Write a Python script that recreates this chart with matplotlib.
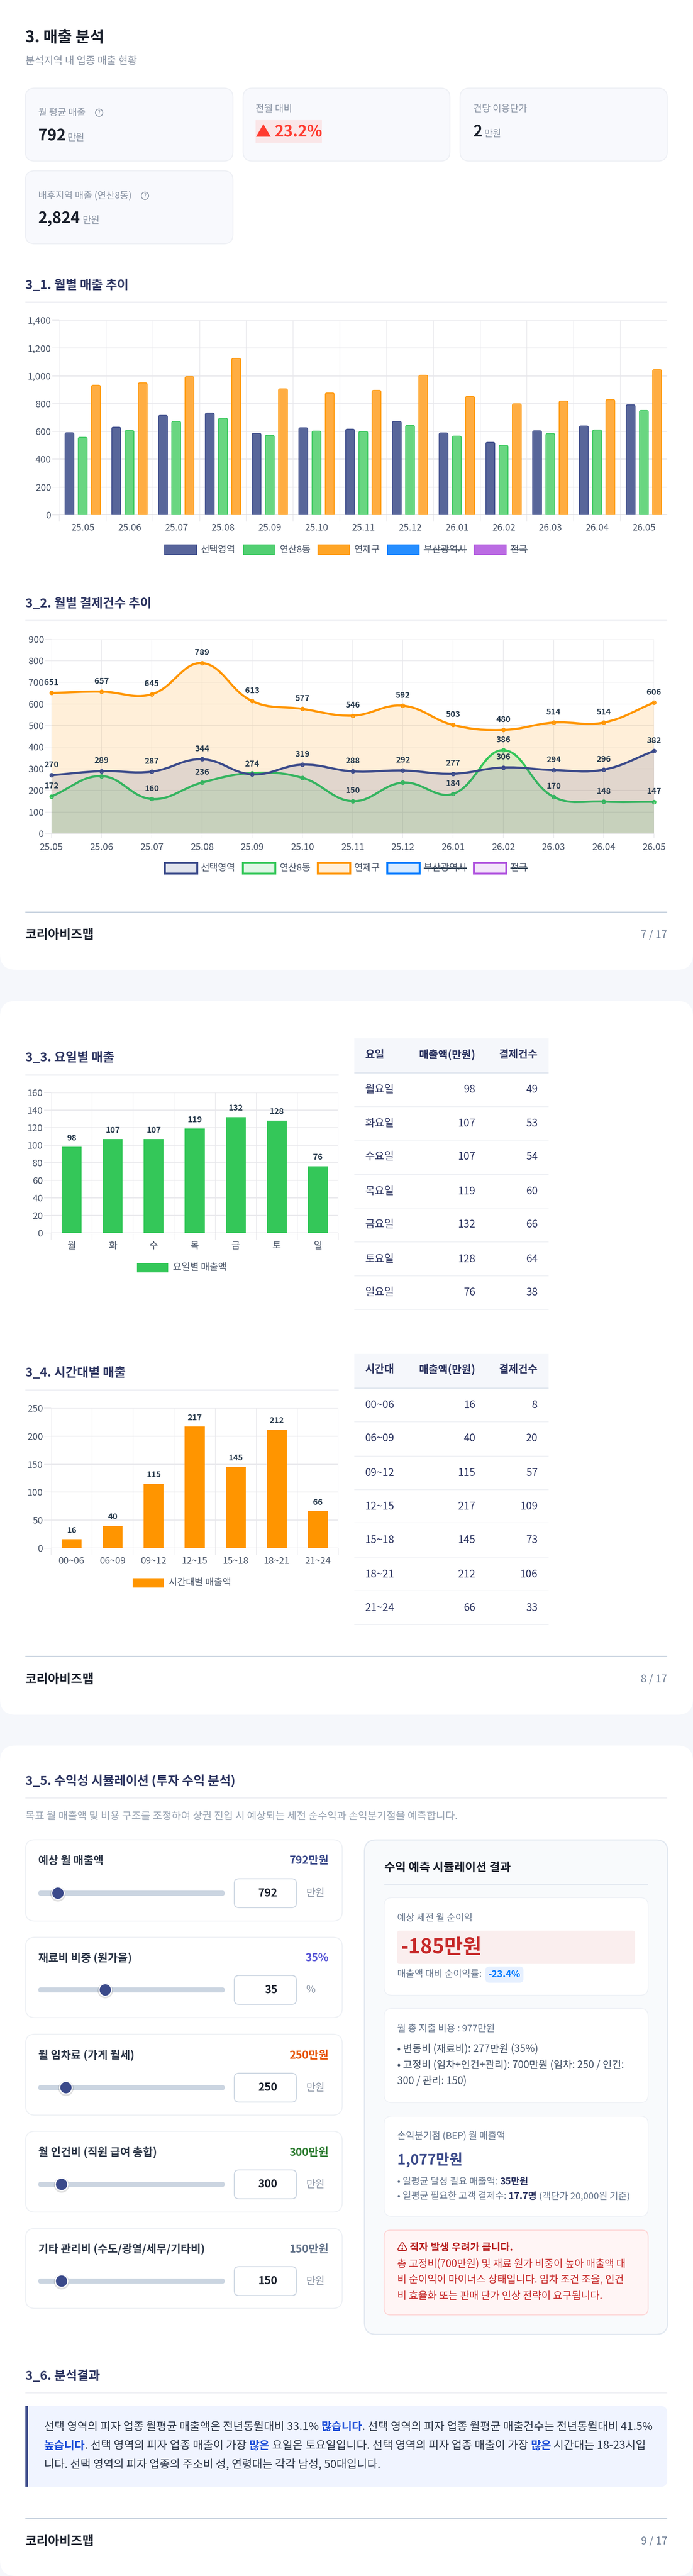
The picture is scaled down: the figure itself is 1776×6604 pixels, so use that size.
import matplotlib
matplotlib.use("Agg")
import matplotlib.pyplot as plt
import numpy as np
from matplotlib.patches import FancyBboxPatch, Rectangle, Circle, PathPatch
from matplotlib.path import Path
from matplotlib.colors import to_rgba

plt.rcParams['font.family'] = ['Noto Sans CJK KR', 'DejaVu Sans']

W, H = 1776, 6604

# ================== DATA ==================
months = ["25.05", "25.06", "25.07", "25.08", "25.09", "25.10", "25.11",
          "25.12", "26.01", "26.02", "26.03", "26.04", "26.05"]
series_names = ["선택영역", "연산8동", "연제구", "부산광역시", "전국"]

sales_selected = [591, 631, 716, 733, 587, 627, 617, 673, 590, 522, 605, 640, 792]
sales_dong = [558, 607, 673, 696, 573, 603, 600, 644, 567, 501, 585, 611, 751]
sales_gu = [933, 950, 995, 1126, 907, 877, 896, 1005, 852, 799, 819, 829, 1045]

count_selected = [270, 289, 287, 344, 274, 319, 288, 292, 277, 306, 294, 296, 382]
count_dong = [172, 266, 160, 236, 280, 258, 150, 236, 184, 386, 170, 148, 147]
count_gu = [651, 657, 645, 789, 613, 577, 546, 592, 503, 480, 514, 514, 606]
dong_hidden_labels = [1, 4, 5, 7]

days_short = ["월", "화", "수", "목", "금", "토", "일"]
days_long = ["월요일", "화요일", "수요일", "목요일", "금요일", "토요일", "일요일"]
day_sales = [98, 107, 107, 119, 132, 128, 76]
day_counts = [49, 53, 54, 60, 66, 64, 38]

time_slots = ["00~06", "06~09", "09~12", "12~15", "15~18", "18~21", "21~24"]
time_sales = [16, 40, 115, 217, 145, 212, 66]
time_counts = [8, 20, 57, 109, 73, 106, 33]

slider_labels = ["예상 월 매출액", "재료비 비중 (원가율)", "월 임차료 (가게 월세)",
                 "월 인건비 (직원 급여 총합)", "기타 관리비 (수도/광열/세무/기타비)"]
slider_values = [792, 35, 250, 300, 150]
slider_max = [10000, 100, 2000, 3000, 1500]
slider_units = ["만원", "%", "만원", "만원", "만원"]
slider_colors = ["#3b4a8a", "#5856d6", "#e65100", "#2e7d32", "#64748b"]

# ================== COLORS ==================
NAVY, GREEN, ORANGE, BLUE, PURPLE = "#3b4a8a", "#34c759", "#ff9500", "#007aff", "#af52de"
series_colors = [NAVY, GREEN, ORANGE, BLUE, PURPLE]
PAGE = "#f5f7fb"
TITLE = "#2d3561"
GRAY = "#8b95a5"
TICK = "#4a5568"
GRID = "#e8e8ec"


def px(v):
    # 1 px of the picture in points
    return v * 0.72


fig = plt.figure(figsize=(W / 100, H / 100), dpi=100, facecolor=PAGE)
bg = fig.add_axes([0, 0, 1, 1])
bg.set_xlim(0, W)
bg.set_ylim(H, 0)
bg.axis("off")
renderer = fig.canvas.get_renderer()


def T(x, y, s, size, color="#2d3748", weight="normal", ha="left", **kw):
    return bg.text(x, y, s, fontsize=px(size), color=color, fontweight=weight,
                   ha=ha, va="center", **kw)


def text_w(s, size, weight="normal"):
    a = bg.text(0, 0, "|" + s + "|", fontsize=px(size), fontweight=weight)
    b = bg.text(0, 0, "||", fontsize=px(size), fontweight=weight)
    w = a.get_window_extent(renderer).width - b.get_window_extent(renderer).width
    a.remove()
    b.remove()
    return w


def runs(x, y, parts, size):
    # several colors on one line
    for s, color, weight in parts:
        T(x, y, s, size, color, weight)
        x += text_w(s, size, weight)


def box(x0, y0, x1, y1, r, fc, ec="none", lw=0):
    p = FancyBboxPatch((x0 + r, y0 + r), x1 - x0 - 2 * r, y1 - y0 - 2 * r,
                       boxstyle=f"round,pad={r},rounding_size={r}",
                       fc=fc, ec=ec, lw=px(lw))
    bg.add_patch(p)
    return p


def rect(x0, y0, x1, y1, fc):
    bg.add_patch(Rectangle((x0, y0), x1 - x0, y1 - y0, fc=fc, ec="none"))


def section(y_title, y_line, text, x1=1710):
    T(65, y_title, text, 32, TITLE, "bold")
    rect(65, y_line - 2, x1, y_line + 2, "#f0f1f5")


def footer(y_line, y_text, page):
    rect(65, y_line - 1.5, 1710, y_line + 1.5, "#cbd5e1")
    T(65, y_text, "코리아비즈맵", 32, "#1a202c", "bold")
    T(1710, y_text, page, 27, "#718096", ha="right")


def make_axes(left, top, right, bottom):
    ax = fig.add_axes([left / W, 1 - bottom / H, (right - left) / W, (bottom - top) / H])
    ax.patch.set_alpha(0)
    for s in ax.spines.values():
        s.set_visible(False)
    return ax


def style_bar_axes(ax, n, labels, last_line=True, ytick_len=18, xtick_len=17, pad=22):
    ax.set_xlim(-0.5, n - 0.5)
    ax.set_xticks(range(n))
    ax.set_xticklabels(labels)
    edges = np.arange(n + 1 if last_line else n) - 0.5
    ax.set_xticks(edges, minor=True)
    ax.tick_params(axis="x", which="major", length=0, pad=px(pad), labelsize=px(24), labelcolor=TICK)
    ax.tick_params(axis="x", which="minor", length=px(xtick_len), width=px(1.5), color=GRID)
    ax.tick_params(axis="y", length=px(ytick_len), width=px(2), color=GRID, pad=px(3),
                   labelsize=px(24), labelcolor=TICK)
    ax.grid(axis="x", which="minor", color=GRID, lw=px(1.5))
    ax.grid(axis="y", which="major", color=GRID, lw=px(2.5))
    ax.set_axisbelow(True)
    ax.axhline(0, color="#d8d8dc", lw=px(3), zorder=1.5)


def rounded_bar(ax, x, width, height, fc, ec, rx, ry):
    # bar with slightly rounded top, in data units
    l, r = x - width / 2, x + width / 2
    verts = [(l, 0), (l, height - ry), (l, height), (l + rx, height),
             (r - rx, height), (r, height), (r, height - ry), (r, 0), (l, 0)]
    codes = [Path.MOVETO, Path.LINETO, Path.CURVE3, Path.CURVE3,
             Path.LINETO, Path.CURVE3, Path.CURVE3, Path.LINETO, Path.LINETO]
    ax.add_patch(PathPatch(Path(verts, codes), fc=fc, ec=ec, lw=px(2), zorder=3))


def bezier_path(xs, ys, sx, sy, tension=0.4):
    # same spline as the chart library, worked out in pixels
    p = np.column_stack([np.array(xs) * sx, np.array(ys) * sy])
    n = len(p)
    prev_c, next_c = np.zeros_like(p), np.zeros_like(p)
    for i in range(n):
        a, b, c = p[max(i - 1, 0)], p[i], p[min(i + 1, n - 1)]
        d01, d12 = np.hypot(*(b - a)), np.hypot(*(c - b))
        s = d01 + d12
        prev_c[i] = b - tension * d01 / s * (c - a)
        next_c[i] = b + tension * d12 / s * (c - a)
    verts, codes = [p[0]], [Path.MOVETO]
    for i in range(n - 1):
        verts += [next_c[i], prev_c[i + 1], p[i + 1]]
        codes += [Path.CURVE4] * 3
    return np.array(verts) / [sx, sy], codes


def legend(y0, y1, boxes, text_x, names, alpha, border, size=24, struck=(3, 4)):
    y = (y0 + y1) / 2
    for i, name in enumerate(names):
        c = series_colors[i]
        x0, x1 = boxes[i]
        rect(x0, y0, x1, y1, "white")
        bg.add_patch(Rectangle((x0, y0), x1 - x0, y1 - y0, fc=to_rgba(c, alpha),
                               ec=c, lw=px(border)))
        T(text_x[i], y, name, size, TICK)
        if i in struck:
            w = text_w(name, size)
            rect(text_x[i], y - 1.5, text_x[i] + w, y + 1.5, "#2c3e50")


def table(x0, x1, head_top, head_bot, head_y, headers, col1, col2, col3, ys, lines):
    rect(x0, head_top, x1, head_bot, "#f5f7fb")
    rect(x0, head_bot, x1, head_bot + 4, "#e2e8f0")
    T(935.5, head_y, headers[0], 27, TITLE, "bold")
    T(1218.5, head_y, headers[1], 27, TITLE, "bold", ha="right")
    T(1378, head_y, headers[2], 27, TITLE, "bold", ha="right")
    for i, y in enumerate(ys):
        T(935.5, y, col1[i], 27, TITLE)
        T(1218.5, y, str(col2[i]), 27, TITLE, ha="right")
        T(1378, y, str(col3[i]), 27, TITLE, ha="right")
        rect(x0, lines[i] - 1, x1, lines[i] + 1, "#eef0f4")


# ================== CARDS ==================
box(0, -60, W, 2486, 40, "white")
box(0, 2566, W, 4396, 40, "white")
box(0, 4475, W, 6604, 40, "white")

# ================== 3. KPI ==================
T(65, 97, "3. 매출 분석", 40, "#1a202c", "bold")
T(65, 156, "분석지역 내 업종 매출 현황", 26, GRAY)

for (x0, y0, x1, y1) in [(65, 226, 597, 413), (623, 226, 1153, 413),
                         (1179, 226, 1710, 413), (65, 438, 597, 625)]:
    box(x0, y0, x1, y1, 24, "#f8f9fd", "#eef0f5", 2.5)


def help_icon(x, y):
    bg.add_patch(Circle((x, y), 9.5, fc="none", ec=GRAY, lw=px(2)))
    T(x, y, "?", 14, GRAY, ha="center")


T(98, 289, "월 평균 매출", 24, GRAY)
help_icon(254, 289)
T(98, 349, "792", 40, "#1a202c", "bold")
T(173, 354, "만원", 24, GRAY)

T(655, 279, "전월 대비", 24, GRAY)
rect(655, 308, 825, 366, "#fae6e8")
T(655, 339, "▲", 40, "#ff3b30", "bold")
T(704, 339, "23.2%", 40, "#ff3b30", "bold")

T(1213, 279, "건당 이용단가", 24, GRAY)
T(1213, 339, "2", 40, "#1a202c", "bold")
T(1241, 344, "만원", 24, GRAY)

T(98, 501, "배후지역 매출 (연산8동)", 24, GRAY)
help_icon(371.5, 502)
T(98, 561, "2,824", 40, "#1a202c", "bold")
T(212, 566, "만원", 24, GRAY)

# ================== 3_1 ==================
section(732, 775, "3_1. 월별 매출 추이")
ax1 = make_axes(152, 821, 1710, 1320)
style_bar_axes(ax1, 13, months, last_line=False)
ax1.set_ylim(0, 1400)
ax1.set_yticks(range(0, 1401, 200))
ax1.set_yticklabels([f"{v:,}" for v in range(0, 1401, 200)])
bar_fill = ["#58669a", "#69d681", "#ffad42"]
for k, vals in enumerate([sales_selected, sales_dong, sales_gu]):
    for i, v in enumerate(vals):
        rounded_bar(ax1, i + (k - 1) * 0.283, 0.19, v, bar_fill[k], series_colors[k], 0.035, 11)
legend(1397, 1422, [(422, 504), (624, 703), (815, 896), (993, 1074), (1215, 1297)],
       [515, 716, 907, 1086, 1308], series_names, 0.85, 2.5)

# ================== 3_2 ==================
section(1548, 1591.5, "3_2. 월별 결제건수 추이")
ax2 = make_axes(131.5, 1638.5, 1676, 2137)
ax2.set_xlim(0, 12)
ax2.set_ylim(0, 900)
ax2.set_xticks(range(13))
ax2.set_xticklabels(months)
ax2.set_yticks(range(0, 901, 100))
ax2.tick_params(axis="x", length=px(12), width=px(1.5), color=GRID, pad=px(12),
                labelsize=px(24), labelcolor=TICK)
ax2.tick_params(axis="y", length=px(16), width=px(1.5), color=GRID, pad=px(3),
                labelsize=px(24), labelcolor=TICK)
ax2.grid(True, color=GRID, lw=px(1.6))
ax2.set_axisbelow(True)
sx = (1676 - 131.5) / 12
sy = (2137 - 1638.5) / 900
xs = list(range(13))
line_series = [(count_gu, ORANGE, []), (count_dong, GREEN, dong_hidden_labels), (count_selected, NAVY, [])]
for z, (vals, c, hidden) in enumerate(line_series):
    verts, codes = bezier_path(xs, vals, sx, sy)
    fill_v = np.vstack([verts, [12, 0], [0, 0], verts[0]])
    fill_c = codes + [Path.LINETO, Path.LINETO, Path.CLOSEPOLY]
    ax2.add_patch(PathPatch(Path(fill_v, fill_c), fc=to_rgba(c, 0.15), ec="none", zorder=2 + z))
    ax2.add_patch(PathPatch(Path(verts, codes), fc="none", ec=c, lw=px(5.5), zorder=2 + z,
                            clip_on=False, capstyle="round"))
    ax2.plot(xs, vals, "o", ms=px(9), mfc=to_rgba(c, 0.35), mec=c, mew=px(2.5), zorder=2.5 + z,
             clip_on=False)
for vals, c, hidden in line_series:
    for i, v in enumerate(vals):
        if i in hidden:
            continue
        ax2.annotate(str(v), (i, v), xytext=(0, px(27)), textcoords="offset points", ha="center",
                     va="center", fontsize=px(21), color="#2c3e50", fontweight="bold", zorder=8,
                     annotation_clip=False)
ax2.axhline(0, color="#c4c6c4", lw=px(2), zorder=6)
legend(2212, 2239.5, [(422, 505), (622, 705), (814, 897), (992, 1075), (1214, 1297)],
       [515, 716, 907, 1086, 1308], series_names, 0.15, 5)
footer(2338.5, 2397, "7 / 17")

# ================== 3_3 ==================
section(2712, 2756, "3_3. 요일별 매출", 868)
ax3 = make_axes(131, 2801, 867, 3160.5)
style_bar_axes(ax3, 7, days_short)
ax3.set_ylim(0, 160)
ax3.set_yticks(range(0, 161, 20))
ax3.bar(range(7), day_sales, width=0.486, color=GREEN, zorder=3)
for i, v in enumerate(day_sales):
    ax3.annotate(str(v), (i, v), xytext=(0, px(23)), textcoords="offset points", ha="center",
                 va="center", fontsize=px(21), color="#2c3e50", fontweight="bold")
rect(351, 3238.5, 431, 3262, GREEN)
T(443, 3250, "요일별 매출액", 24, TICK)
table(908, 1405.5, 2662, 2748, 2704, ["요일", "매출액(만원)", "결제건수"],
      days_long, day_sales, day_counts,
      [2793.7, 2880, 2965.6, 3054, 3139.6, 3228, 3313.6],
      [2837, 2923, 3011, 3097, 3184.5, 3271, 3357])

# ================== 3_4 ==================
section(3520, 3564, "3_4. 시간대별 매출", 868)
ax4 = make_axes(131, 3610, 867, 3969)
style_bar_axes(ax4, 7, time_slots)
ax4.set_ylim(0, 250)
ax4.set_yticks(range(0, 251, 50))
ax4.bar(range(7), time_sales, width=0.486, color=ORANGE, zorder=3)
for i, v in enumerate(time_sales):
    ax4.annotate(str(v), (i, v), xytext=(0, px(23)), textcoords="offset points", ha="center",
                 va="center", fontsize=px(21), color="#2c3e50", fontweight="bold")
rect(340, 4046, 420, 4070, ORANGE)
T(431.5, 4058, "시간대별 매출액", 24, TICK)
table(908, 1405.5, 3471, 3557, 3511, ["시간대", "매출액(만원)", "결제건수"],
      time_slots, time_sales, time_counts,
      [3602, 3687.6, 3776, 3862, 3948, 4036, 4122],
      [3645, 3733, 3819, 3904.5, 3992, 4078.5, 4164.6])
footer(4247, 4305.5, "8 / 17")

# ================== 3_5 ==================
section(4566, 4609, "3_5. 수익성 시뮬레이션 (투자 수익 분석)")
T(65, 4656, "목표 월 매출액 및 비용 구조를 조정하여 상권 진입 시 예상되는 세전 순수익과 손익분기점을 예측합니다.", 26.4, "#9aa5b4")

card_tops = [4716.5, 4966.5, 5215, 5464, 5713]
card_bots = [4925, 5172.5, 5422.5, 5671, 5918]
label_ys = [4770.5, 5020.5, 5269.5, 5519, 5767]
slider_ys = [4853.5, 5101.5, 5352, 5600, 5848]
for i in range(5):
    box(65.5, card_tops[i], 877, card_bots[i], 24, "white", "#eef1f5", 2.5)
    T(98, label_ys[i], slider_labels[i], 28, "#2d3748", "bold")
    unit = slider_units[i]
    T(842.5, label_ys[i], f"{slider_values[i]}{unit}", 28, slider_colors[i], "bold", ha="right")
    y = slider_ys[i]
    box(98, y - 6.5, 576, y + 6.5, 6.5, "#cbd5e1")
    tx = 113 + 448 * slider_values[i] / slider_max[i]
    bg.add_patch(Circle((tx, y + 2), 19.5, fc=(0, 0, 0, 0.12), ec="none"))
    bg.add_patch(Circle((tx, y), 17.5, fc="white", ec="none"))
    bg.add_patch(Circle((tx, y), 14.5, fc=NAVY, ec="none"))
    box(600.5, y - 37, 759.5, y + 37, 12, "white", "#cbd5e1", 2.5)
    T(711, y, str(slider_values[i]), 28, "#1a202c", "bold", ha="right")
    T(785, y, unit, 26, GRAY)

# 결과 패널
box(934, 4717, 1711, 5984.5, 30, "#f8fafc", "#e2e8f0", 3)
T(984.5, 4788, "수익 예측 시뮬레이션 결과", 30, "#1a202c", "bold")
rect(984.5, 4830, 1661, 4832, "#e2e8f0")

box(984.5, 4865, 1661, 5115, 20, "white", "#eef1f6", 2)
T(1018, 4917, "예상 세전 월 순이익", 24, "#64748b")
box(1018, 4949.5, 1627.5, 5035, 6, "#faeeee")
T(1027, 4993, "-185만원", 52, "#c62828", "bold")
T(1018, 5061.5, "매출액 대비 순이익률:", 24, "#64748b")
box(1244, 5041.5, 1341.5, 5083, 10, "#e6f0ff")
T(1292.5, 5062, "-23.4%", 24, BLUE, "bold", ha="center")

box(984.5, 5149, 1661, 5390.5, 20, "white", "#eef1f6", 2)
T(1018, 5201, "월 총 지출 비용 : 977만원", 24, "#64748b")
T(1018, 5253.5, "• 변동비 (재료비): 277만원 (35%)", 26, "#475569")
T(1018, 5294, "• 고정비 (임차+인건+관리): 700만원 (임차: 250 / 인건:", 26, "#475569")
T(1018, 5335, "300 / 관리: 150)", 26, "#475569")

box(984.5, 5425, 1661, 5682, 20, "white", "#eef1f6", 2)
T(1018, 5476.5, "손익분기점 (BEP) 월 매출액", 24, "#64748b")
T(1018, 5537, "1,077만원", 37, NAVY, "bold")
runs(1018, 5593, [("• 일평균 달성 필요 매출액: ", "#64748b", "normal"),
                  ("35만원", TITLE, "bold")], 24)
runs(1018, 5630.5, [("• 일평균 필요한 고객 결제수: ", "#64748b", "normal"),
                    ("17.7명", TITLE, "bold"),
                    (" (객단가 20,000원 기준)", "#64748b", "normal")], 24)

box(984.5, 5717.5, 1661, 5934.5, 16, "#fff5f5", "#fed7d7", 2.5)
T(1018, 5762, "⚠ 적자 발생 우려가 큽니다.", 26, "#b71c1c", "bold")
T(1018, 5804, "총 고정비(700만원) 및 재료 원가 비중이 높아 매출액 대", 26, "#c62828")
T(1018, 5845, "비 순이익이 마이너스 상태입니다. 임차 조건 조율, 인건", 26, "#c62828")
T(1018, 5887, "비 효율화 또는 판매 단가 인상 전략이 요구됩니다.", 26, "#c62828")

# ================== 3_6 ==================
section(6092.5, 6134, "3_6. 분석결과")
box(50, 6168, 1710, 6375.5, 18, "#f0f4ff")
rect(50, 6168, 65, 6375.5, "white")
rect(65, 6168, 72, 6375.5, NAVY)
HL = "#1d4ed8"
BODY = "#2d3748"
runs(113, 6222, [("선택 영역의 피자 업종 월평균 매출액은 전년동월대비 33.1% ", BODY, "normal"),
                 ("많습니다", HL, "bold"),
                 (". 선택 영역의 피자 업종 월평균 매출건수는 전년동월대비 41.5%", BODY, "normal")], 28.5)
runs(113, 6270.5, [("높습니다", HL, "bold"),
                   (". 선택 영역의 피자 업종 매출이 가장 ", BODY, "normal"),
                   ("많은", HL, "bold"),
                   (" 요일은 토요일입니다. 선택 영역의 피자 업종 매출이 가장 ", BODY, "normal"),
                   ("많은", HL, "bold"),
                   (" 시간대는 18-23시입", BODY, "normal")], 28.5)
T(113, 6318.5, "니다. 선택 영역의 피자 업종의 주소비 성, 연령대는 각각 남성, 50대입니다.", 28.5, BODY)
footer(6457, 6516, "9 / 17")

fig.savefig("out.png", dpi=100, facecolor=PAGE)
